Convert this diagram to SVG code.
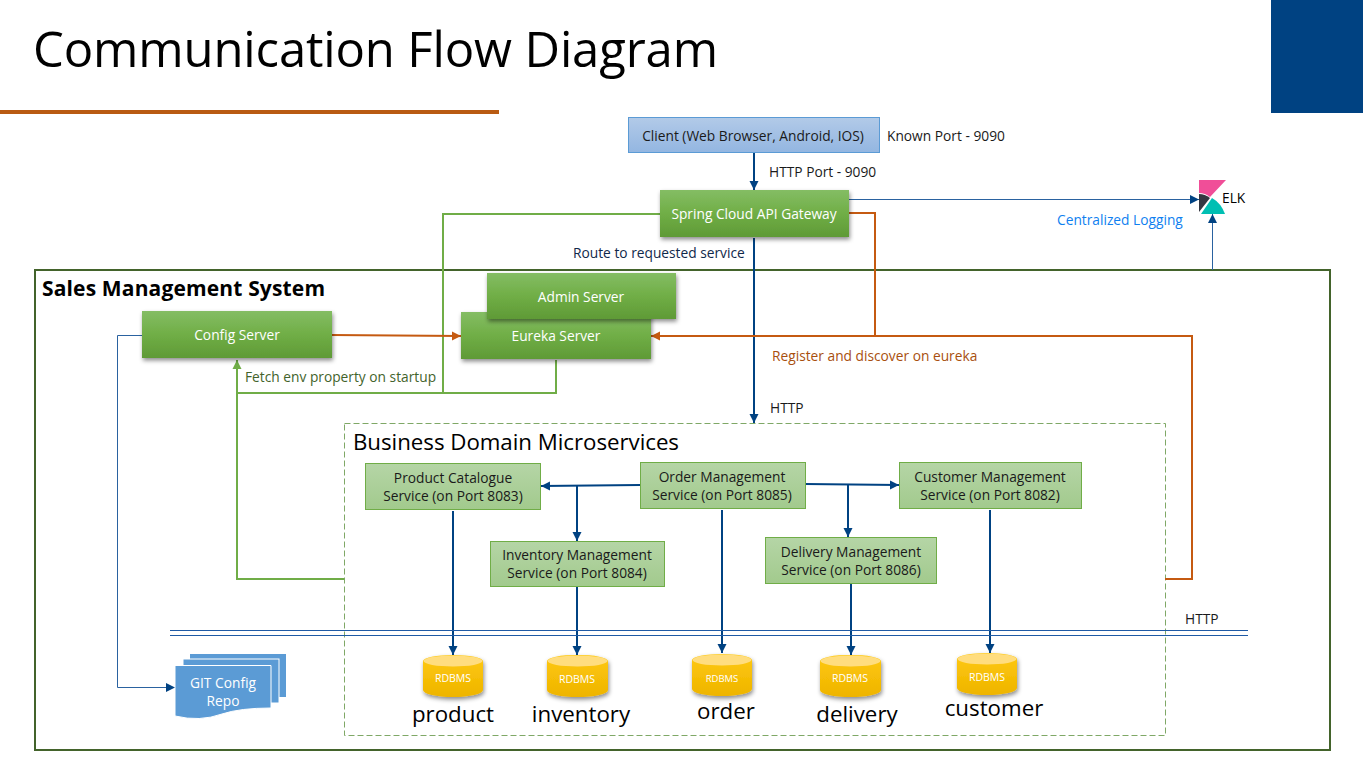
<svg xmlns="http://www.w3.org/2000/svg" width="1363" height="760" viewBox="0 0 1363 760">
<style>
text{font-family:"Open Sans","Noto Sans","Liberation Sans",sans-serif;font-size:13.75px;fill:#1a1a1a;text-anchor:middle}
.s{text-anchor:start}
.w{fill:#fff}
.g{fill:url(#gs);filter:url(#sh)}
.m{fill:url(#gm);stroke:#70ad47;stroke-width:1}
.cg{fill:none;stroke:#70ad47;stroke-width:2}
.co{fill:none;stroke:#c55a11;stroke-width:2}
.cb{fill:none;stroke:#004282;stroke-width:2}
.ct{fill:none;stroke:#2a62a0;stroke-width:1}
.lbl{font-size:22.3px;fill:#000}
.db{fill:url(#gy);filter:url(#sh)}
.r{font-size:10.500px}
</style>
<defs>
<linearGradient id="gs" x1="0" y1="0" x2="0" y2="1"><stop offset="0" stop-color="#84bd64"/><stop offset=".5" stop-color="#70ae46"/><stop offset="1" stop-color="#5f9a36"/></linearGradient>
<linearGradient id="gm" x1="0" y1="0" x2="0" y2="1"><stop offset="0" stop-color="#b5d5a6"/><stop offset="1" stop-color="#a2ca8d"/></linearGradient>
<linearGradient id="gc" x1="0" y1="0" x2="0" y2="1"><stop offset="0" stop-color="#b2cae8"/><stop offset="1" stop-color="#93b6e1"/></linearGradient>
<linearGradient id="gy" x1="0" y1="0" x2="0" y2="1"><stop offset="0" stop-color="#ffc90f"/><stop offset="1" stop-color="#eeb400"/></linearGradient>
<filter id="sh" x="-10%" y="-10%" width="120%" height="130%"><feDropShadow dx="1" dy="2.5" stdDeviation="2" flood-color="#000" flood-opacity=".45"/></filter>
<marker id="ab" markerUnits="userSpaceOnUse" markerWidth="10" markerHeight="10" refX="9" refY="5" orient="auto"><path d="M0 0.500L9 5L0 9.500Z" fill="#004282"/></marker>
<marker id="ao" markerUnits="userSpaceOnUse" markerWidth="10" markerHeight="10" refX="9" refY="5" orient="auto"><path d="M0 0.500L9 5L0 9.500Z" fill="#c55a11"/></marker>
<marker id="ag" markerUnits="userSpaceOnUse" markerWidth="10" markerHeight="10" refX="9" refY="5" orient="auto"><path d="M0 0.500L9 5L0 9.500Z" fill="#70ad47"/></marker>
</defs>
<rect width="1363" height="760" fill="#fff"/>
<text class="s" x="33" y="67" style="font-size:49px;fill:#000" textLength="685">Communication Flow Diagram</text>
<rect x="0" y="110" width="499" height="4" fill="#b95b12"/>
<rect x="1271" y="0" width="92" height="113" fill="#004282"/>
<rect x="35" y="270" width="1295" height="480" fill="none" stroke="#43632b" stroke-width="2"/>
<text class="s" x="42" y="296" style="font-size:21px;font-weight:700;fill:#000" textLength="283">Sales Management System</text>
<rect x="344.500" y="423.500" width="821" height="312" fill="none" stroke="#7fa866" stroke-dasharray="6 3"/>
<text class="s lbl" x="353" y="450" textLength="326">Business Domain Microservices</text>

<g id="connectors">
<path class="cb" d="M754 153V190" marker-end="url(#ab)"/>
<path class="ct" d="M849 199.500H1199" marker-end="url(#ab)"/>
<path class="ct" d="M1212.500 270V214" marker-end="url(#ab)"/>
<path class="cb" d="M754 238V423" marker-end="url(#ab)"/>
<path class="cg" d="M660 214H443V393"/>
<path class="cg" d="M556 360V393H237V360"/>
<path class="cg" d="M344 579H237V360" marker-end="url(#ag)"/>
<path class="co" d="M331 335L461 336" marker-end="url(#ao)"/>
<path class="co" d="M849 213H875V336"/>
<path class="co" d="M1165 579H1192V336H651" marker-end="url(#ao)"/>
<path class="ct" d="M142 335.500H117.500V687.500H175" marker-end="url(#ab)"/>
<path class="cb" d="M640 485L541 486" marker-end="url(#ab)"/>
<path class="cb" d="M577 485V541" marker-end="url(#ab)"/>
<path class="cb" d="M805 484L899 485" marker-end="url(#ab)"/>
<path class="cb" d="M848 485V537" marker-end="url(#ab)"/>
<path class="cb" d="M453 511V655" marker-end="url(#ab)"/>
<path class="cb" d="M577 587V655" marker-end="url(#ab)"/>
<path class="cb" d="M722 510V653" marker-end="url(#ab)"/>
<path class="cb" d="M851 584V655" marker-end="url(#ab)"/>
<path class="cb" d="M990 510V653" marker-end="url(#ab)"/>
<path d="M170 630.500H1248M170 635.500H1248" fill="none" stroke="#1f5aa5" stroke-width="1"/>
</g>

<text class="s" x="887" y="141">Known Port - 9090</text>
<text class="s" x="769" y="177">HTTP Port - 9090</text>
<text class="s" x="573" y="258" style="fill:#10284a">Route to requested service</text>
<text class="s" x="1057" y="225" style="fill:#0f7ff0">Centralized Logging</text>
<text class="s" x="772" y="361" style="fill:#a84f0e">Register and discover on eureka</text>
<text class="s" x="245" y="382" style="fill:#43632b">Fetch env property on startup</text>
<text class="s" x="770" y="413">HTTP</text>
<text class="s" x="1185" y="624">HTTP</text>

<g id="client"><rect x="628.500" y="117.500" width="251" height="35" fill="url(#gc)" stroke="#5b9bd5"/><text x="753" y="141">Client (Web Browser, Android, IOS)</text></g>
<g id="gateway"><rect class="g" x="660" y="190" width="189" height="47"/><text class="w" x="754" y="219">Spring Cloud API Gateway</text></g>
<g id="elk">
<path d="M1199 180H1226L1210 197Q1205 193 1199 193Z" fill="#f04e98"/>
<path d="M1199 194Q1205 194 1210 198L1199 212Z" fill="#343741"/>
<path d="M1201 214L1212 198Q1221 203 1225 214Z" fill="#00bfb3"/>
<text class="s" x="1222" y="203" style="fill:#000">ELK</text>
</g>
<g id="config-server"><rect class="g" x="142" y="311" width="190" height="47"/><text class="w" x="237" y="340">Config Server</text></g>
<g id="eureka-server"><rect class="g" x="461" y="312" width="190" height="47"/><text class="w" x="556" y="341">Eureka Server</text></g>
<g id="admin-server"><rect class="g" x="487" y="273" width="189" height="46"/><text class="w" x="581" y="302">Admin Server</text></g>

<g id="product-service"><rect class="m" x="365.500" y="463.500" width="175" height="46"/><text x="453" y="483">Product Catalogue</text><text x="453" y="501">Service (on Port 8083)</text></g>
<g id="order-service"><rect class="m" x="640.500" y="462.500" width="165" height="46"/><text x="722" y="482">Order Management</text><text x="722" y="500">Service (on Port 8085)</text></g>
<g id="customer-service"><rect class="m" x="899.500" y="462.500" width="182" height="46"/><text x="990" y="482">Customer Management</text><text x="990" y="500">Service (on Port 8082)</text></g>
<g id="inventory-service"><rect class="m" x="490.500" y="541.500" width="174" height="45"/><text x="577" y="560">Inventory Management</text><text x="577" y="578">Service (on Port 8084)</text></g>
<g id="delivery-service"><rect class="m" x="765.500" y="537.500" width="171" height="46"/><text x="851" y="557">Delivery Management</text><text x="851" y="575">Service (on Port 8086)</text></g>

<g id="git-repo">
<rect x="190" y="654" width="96" height="43" fill="#5b9bd5"/>
<rect x="183" y="659" width="96" height="44" fill="#5b9bd5" stroke="#fff"/>
<path d="M175 665.500H271V708Q240 708 222 714Q200 722 175 716Z" fill="#5b9bd5" stroke="#fff"/>
<text class="w" x="223" y="688">GIT Config</text><text class="w" x="223" y="706">Repo</text>
</g>

<g id="db-product"><path class="db" d="M423 661A30 6 0 0 1 483 661V690A30 7 0 0 1 423 690Z"/><ellipse cx="453" cy="661" rx="29.500" ry="5.500" fill="#ffdd7f"/><text class="w r" x="453" y="682">RDBMS</text><text class="lbl" x="453" y="722">product</text></g>
<g id="db-inventory"><path class="db" d="M547 661A30 6 0 0 1 608 661V690A30 7 0 0 1 547 690Z"/><ellipse cx="577.500" cy="661" rx="30" ry="5.500" fill="#ffdd7f"/><text class="w r" x="577" y="683">RDBMS</text><text class="lbl" x="581" y="722">inventory</text></g>
<g id="db-order"><path class="db" d="M692 660A30 6 0 0 1 752 660V689A30 7 0 0 1 692 689Z"/><ellipse cx="722" cy="660" rx="29.500" ry="5.500" fill="#ffdd7f"/><text class="w" x="722" y="682" style="font-size:9.500px">RDBMS</text><text class="lbl" x="726" y="719">order</text></g>
<g id="db-delivery"><path class="db" d="M820 661A30 6 0 0 1 881 661V690A30 7 0 0 1 820 690Z"/><ellipse cx="850.500" cy="661" rx="30" ry="5.500" fill="#ffdd7f"/><text class="w r" x="850" y="682">RDBMS</text><text class="lbl" x="857" y="722">delivery</text></g>
<g id="db-customer"><path class="db" d="M957 659A30 6 0 0 1 1017 659V688A30 7 0 0 1 957 688Z"/><ellipse cx="987" cy="659" rx="29.500" ry="5.500" fill="#ffdd7f"/><text class="w r" x="987" y="681">RDBMS</text><text class="lbl" x="994" y="716">customer</text></g>
</svg>
